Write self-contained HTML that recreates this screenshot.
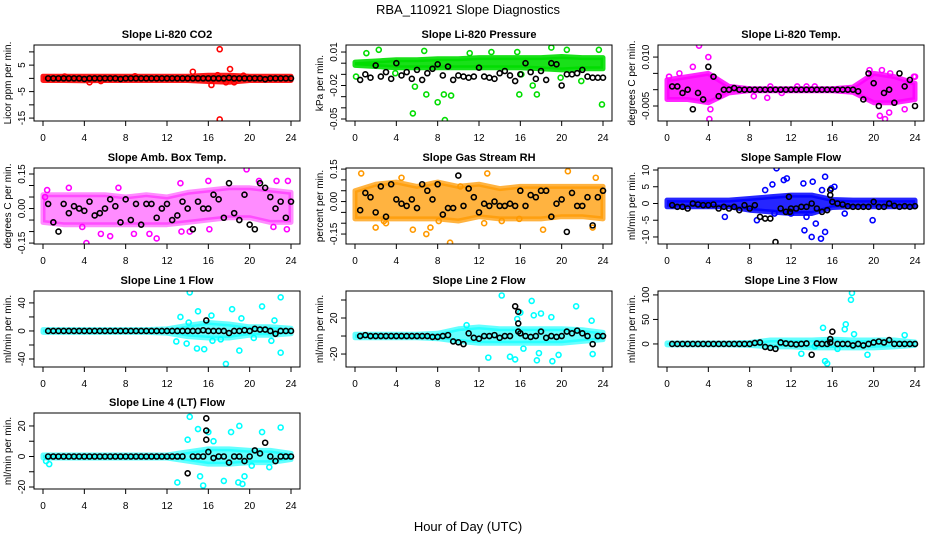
<!DOCTYPE html>
<html><head><meta charset="utf-8"><style>
html,body{margin:0;padding:0;background:#fff;}
svg{display:block;font-family:"Liberation Sans",sans-serif;}
</style></head><body>
<svg id="chart" width="936" height="540" viewBox="0 0 936 540">
<text x="468" y="14" text-anchor="middle" font-size="13">RBA_110921  Slope Diagnostics</text>
<text x="468" y="531" text-anchor="middle" font-size="13">Hour of Day (UTC)</text>
</svg>
<script>
const hours=[0.5,1,1.5,2,2.5,3,3.5,4,4.5,5,5.5,6,6.5,7,7.5,8,8.5,9,9.5,10,10.5,11,11.5,12,12.5,13,13.5,14,14.5,15,15.5,16,16.5,17,17.5,18,18.5,19,19.5,20,20.5,21,21.5,22,22.5,23,23.5,24];
const bandHours=[0,2,4,6,8,10,12,14,16,18,20,22,24];
const xTicks=[0,4,8,12,16,20,24];

// P1 CO2
const p1Hi=[0.8,0.8,0.8,0.8,0.8,0.8,0.8,0.8,1.2,1.2,0.8,0.8,0.8];
const p1Lo=[-0.8,-0.8,-0.9,-0.8,-0.8,-0.8,-0.8,-0.8,-1.2,-1.5,-0.8,-0.8,-0.8];
const p1X=[17.1,14.5,18.1,16.3,17.1,4.5,5.6,17.7,18.5,16.9,19.4,8.9,2.1];
const p1Y=[11,2.5,3.5,-2.5,-15.5,-1.5,-1,-1.5,-1.5,1.2,1,0.8,0.7];
const p1K=[0,0,0,0,0,0,0,-0.2,0,0,0,0, 0,0,-0.2,0,0,0,0,0,0,0,0,0, 0,0,0,0,0,0,0,0,0,0,0,0.2, 0,0,0,0,0,0,-0.3,0,0,0,0,0];
const p1EX=[],p1EY=[];
// P2 Pressure
const p2Hi=[0.001,0.002,0.003,0.003,0.004,0.004,0.005,0.005,0.005,0.005,0.006,0.005,0.005];
const p2Lo=[-0.002,-0.003,-0.004,-0.004,-0.004,-0.004,-0.004,-0.004,-0.004,-0.005,-0.006,-0.005,-0.005];
const p2X=[0.1,2.3,5.6,5.8,6.9,8,8.7,9.3,8.6,15.9,17.2,17.6,19,23.9,21.9,20.5,23.6,3.9,13.2,6.7,1.1,15.7,11.1,19.9,16.1];
const p2Y=[-0.012,0.012,-0.045,-0.021,-0.028,-0.035,-0.051,-0.029,-0.028,-0.028,-0.020,-0.028,0.014,-0.037,-0.016,0.012,0.012,-0.009,0.010,0.011,0.009,0.010,0.009,-0.013,-0.010];
const p2K=[-0.015,-0.010,-0.013,-0.002,-0.012,-0.008,-0.014,0.000,-0.011,-0.008,-0.014,-0.006,-0.015,-0.009,-0.005,-0.001,-0.011,-0.003,-0.015,-0.011,-0.012,-0.013,-0.012,-0.004,-0.012,-0.013,-0.014,-0.009,-0.007,-0.011,-0.016,-0.010,0.000,-0.008,-0.014,-0.007,-0.015,0.000,-0.001,-0.020,-0.010,-0.010,-0.009,-0.006,-0.012,-0.013,-0.013,-0.013];
const p2EX=[],p2EY=[];
// P3 Temp
const p3Hi=[0.003,0.004,0.005,0.001,0.0003,0.0003,0.0003,0.0003,0.0003,0.0008,0.005,0.004,0.002];
const p3Lo=[-0.003,-0.003,-0.004,-0.001,-0.0003,-0.0003,-0.0003,-0.0003,-0.0003,-0.0008,-0.004,-0.004,-0.003];
const p3X=[3.1,4.0,4.1,1.2,0.2,2.5,4.2,19.6,20.8,21.1,20.6,21.6,23,21.5,24,8.4,9.7,10,11.1,12.6,13.5,14.3,23.9];
const p3Y=[0.0135,0.010,-0.009,0.005,0.004,0.007,-0.006,0.006,0.006,-0.009,-0.008,0.005,-0.006,-0.007,0.004,-0.002,-0.0025,0.001,-0.001,0.001,0.001,0.001,0.004];
const p3K=[0.001,0.001,-0.001,0.000,-0.006,-0.001,-0.003,0.007,0.004,-0.002,0.000,0.000, 0.0005,0,0,0,0,0,0,0,0,0,0,0, 0,0,0,0,0,0,0,0,0,0,0,0, -0.0005,-0.003,0.005,0.002,-0.005,-0.001,0.000,-0.004,0.005,0.001,0.003,-0.005];
const p3EX=[],p3EY=[];
// P4 Amb Box
const p4Hi=[0.06,0.06,0.06,0.06,0.05,0.06,0.05,0.07,0.08,0.09,0.09,0.08,0.07];
const p4Lo=[-0.06,-0.07,-0.07,-0.07,-0.07,-0.07,-0.07,-0.06,-0.05,-0.04,-0.04,-0.06,-0.06];
const p4X=[4.2,5.6,6.5,8.8,10.3,11,13.4,14.2,16.1,19.7,16,20.9,22.6,23.7,2.5,0.4,7.3,13.3,3.8,1,0.2,22.3,23.6];
const p4Y=[-0.15,-0.11,-0.12,-0.11,-0.11,-0.13,-0.1,-0.10,-0.09,0.17,0.12,0.12,0.12,0.12,0.09,0.08,0.09,0.11,-0.08,-0.06,0.05,-0.08,-0.09];
const p4K=[0.02,-0.06,-0.1,0.02,-0.02,0.01,0,-0.01,0.03,-0.03,-0.02,0, 0.04,0.01,-0.06,0.04,-0.05,0.02,-0.07,0.02,0.02,-0.04,0.00,0.02, -0.05,-0.03,0.03,0,-0.09,0.03,0,0,0.06,0.04,-0.04,0.11, -0.02,-0.05,0.06,-0.07,-0.09,0.11,0.09,0.05,0.00,0.03,-0.04,0.03];
const p4EX=[],p4EY=[];
// P5 RH
const p5Hi=[0.05,0.08,0.09,0.07,0.09,0.07,0.08,0.06,0.07,0.07,0.07,0.07,0.07];
const p5Lo=[-0.08,-0.08,-0.08,-0.08,-0.08,-0.09,-0.07,-0.08,-0.08,-0.08,-0.07,-0.07,-0.08];
const p5X=[0.6,2,2.8,5.6,6.9,7.3,9.2,8.1,12.8,20.6,23.3,18.2,12.5,23,4.5,15.9,14.2,10.2,3];
const p5Y=[0.13,-0.12,-0.09,-0.13,-0.15,-0.12,-0.19,-0.09,0.13,0.14,0.11,-0.13,-0.1,-0.12,0.11,-0.08,-0.09,0.07,-0.1];
const p5K=[-0.04,0.04,0.02,-0.05,0.07,-0.07,0.08,0.01,-0.01,-0.02,0.01,-0.03, 0.08,0.05,0.01,0.08,-0.06,-0.03,-0.03,0.12,-0.02,0.06,0.02,-0.05, -0.01,-0.02,0,-0.02,-0.02,-0.01,-0.02,0.05,-0.02,0.03,0.02,0.05, 0.05,-0.07,-0.01,0.01,-0.14,0.04,-0.02,-0.02,0.02,-0.11,0.02,0.05];
const p5EX=[],p5EY=[];
// P6 Sample Flow
const p6Hi=[1,1,1,1,1.5,2,2.5,2.5,1.2,1,1,1,1];
const p6Lo=[-1,-1,-1,-1,-2,-2.5,-3,-3,-1.2,-1,-1,-1,-1];
const p6X=[10.6,11.3,11.6,10.2,9.5,13.2,14.1,15.3,15,16.2,13.3,14,14.9,15.3,14.4,13.5,15.9,19.9,8.7,5.6,12,17.2,10.4];
const p6Y=[10.5,7,7.5,5.7,4,6,6.5,8,4,5,-8,-10,-10.5,-8.5,-6,-4,4.5,-5,-5,-4,-3,-3,-3];
const p6K=[-0.5,-1,-1,-1.5,0,-0.3,-0.5,-0.5,-0.3,-1.5,-1,-1.5, -1,-2,-0.5,-1.5,-0.5,-4,-4.5,-4.5,-11.5,-1.5,-2.5,-1.5, -1.5,-1,-1,0,-1.5,-2.5,-2,0.5,0,-0.3,-0.8,-1, -1,-1,-1,0.5,-1,-1,0,-0.7,-1,-0.8,-1,-0.8];
const p6EX=[15.8,15.8,11.8,11.9],p6EY=[4,2.5,2,-2.5];
// P7 Line 1
const p7Hi=[2,2,2,2,2,2,3,8,12,10,6,6,4];
const p7Lo=[-2,-2,-2,-2,-2,-2,-3,-8,-10,-10,-6,-6,-4];
const p7X=[14.2,23,21.2,18.3,15,13.3,16.3,14.9,15.6,17.7,19,23,22.4,13.9,16.4,17.2,12.9,20.4,22.1,14.1,19.2];
const p7Y=[55,48,35,31,28,20,22,-25,-26,-47,-28,-31,15,-18,-14,-12,-15,-10,-14,12,18];
const p7K=[0,0,0,0,0,0,0,0,0,0,0,0, 0,0,0,0,0,0,0,0,0,0,0,0, 0,0,0,0,0,0,1,0,0,0,0,-3, 0,0,1,0,3,2,2,0,-4,0,0,0];
const p7EX=[15.8],p7EY=[15];
// P8 Line 2
const p8Hi=[2,2,2,2,3,8,10,8,8,8,8,7,4];
const p8Lo=[-2,-2,-2,-2,-3,-6,-8,-8,-8,-8,-8,-6,-4];
const p8X=[14.2,17.1,21.4,15.7,17.3,19,22.9,12.9,15,15.5,17.6,19.1,19.7,23,16.3,17.8,10.8,16,18];
const p8Y=[45,39,33,19,23,21,17,-24,-23,-26,-27,-28,-21,-20,-14,-19,12,26,25];
const p8K=[0,1,0,0,0,0,0,0,0,0,0,0, 0,0,-1,-1,0,1,-6,-7,-9,3,-2,-3, 0,0,1,-2,0,0,33,3,0,-1,0,5, -2,0,-1,0,5,3,6,3,0,-9,0,0];
const p8EX=[15.8,15.8,15.8],p8EY=[27,14,5];
// P9 Line 3
const p9Hi=[2,2,2,2,3,8,8,8,10,8,8,8,4];
const p9Lo=[-2,-2,-2,-2,-3,-6,-6,-8,-8,-8,-8,-6,-3];
const p9X=[17.9,17.8,17.3,17.2,15.1,15.3,15.5,13,19.4,18.1,23,16.5,14.3];
const p9Y=[104,90,40,30,33,-35,-40,-20,-22,20,18,-10,-5];
const p9K=[0,0,0,0,0,0,0,0,0,0,0,0, 0,0,0,0,2,3,-6,-8,-10,3,1,0, -1,0,1,-22,1,0,0,25,0,0,0,-3, 0,-3,0,3,5,3,8,0,0,0,0,0];
const p9EX=[15.8,15.8],p9EY=[10,3];
// P10 Line 4
const p10Hi=[1,1,1,1,1,1,1,3,5,5,4,4,2];
const p10Lo=[-1,-1,-1,-1,-1,-1,-1,-3,-5,-5,-4,-4,-2];
const p10X=[14.2,15,19,21.2,23,18.2,16,13,15.5,15.2,17.5,18.9,19.3,19.5,14,16.5,20.2,21.9,0.3,0.6];
const p10Y=[26,18,20,16,19,16,16,-17,-19,-13,-16,-17,-18,-13,11,10,-6,-7,-3,-5];
const p10K=[0,0,0,0,0,0,0,0,0,0,0,0, 0,0,0,0,0,0,0,0,0,0,0,0, 0,0,0,-11,0,0,0,3,-1,0,0,-4, 0,0,-3,0,4,2,9,0,-3,0,0,0];
const p10EX=[15.8,15.8,15.8],p10EY=[25,17,11];

const panels=[
 {t:"Slope Li-820 CO2",yl:"Licor ppm per min.",r:0,c:0,ymin:-16.1,ymax:12.6,ticks:[-15,-10,-5,0,5,10],labs:["-15","","-5","","5",""],col:"#ff0000",op:0.9,hi:p1Hi,lo:p1Lo,px:p1X,py:p1Y,k:p1K,ex:p1EX,ey:p1EY},
 {t:"Slope Li-820 Pressure",yl:"kPa per min.",r:0,c:1,ymin:-0.0518,ymax:0.0163,ticks:[0.01,0,-0.01,-0.02,-0.03,-0.04,-0.05],labs:["0.01","","","-0.02","","","-0.05"],col:"#00dd00",op:0.9,hi:p2Hi,lo:p2Lo,px:p2X,py:p2Y,k:p2K,ex:p2EX,ey:p2EY},
 {t:"Slope Li-820 Temp.",yl:"degrees C per min.",r:0,c:2,ymin:-0.0096,ymax:0.0137,ticks:[0.010,0.005,0,-0.005],labs:["0.010","","","-0.005"],col:"#ff00ff",op:0.85,hi:p3Hi,lo:p3Lo,px:p3X,py:p3Y,k:p3K,ex:p3EX,ey:p3EY},
 {t:"Slope Amb. Box Temp.",yl:"degrees C per min.",r:1,c:0,ymin:-0.154,ymax:0.176,ticks:[0.15,0.10,0.05,0,-0.05,-0.10,-0.15],labs:["0.15","","","0.00","","","-0.15"],col:"#ff00ff",op:0.45,hi:p4Hi,lo:p4Lo,px:p4X,py:p4Y,k:p4K,ex:p4EX,ey:p4EY},
 {t:"Slope Gas Stream RH",yl:"percent per min.",r:1,c:1,ymin:-0.196,ymax:0.155,ticks:[0.15,0.10,0.05,0,-0.05,-0.10,-0.15],labs:["0.15","","","0.00","","","-0.15"],col:"#ff9900",op:0.75,hi:p5Hi,lo:p5Lo,px:p5X,py:p5Y,k:p5K,ex:p5EX,ey:p5EY},
 {t:"Slope Sample Flow",yl:"ml/min per min.",r:1,c:2,ymin:-12.1,ymax:10.6,ticks:[10,5,0,-5,-10],labs:["10","5","0","-5","-10"],col:"#0000ff",op:0.85,hi:p6Hi,lo:p6Lo,px:p6X,py:p6Y,k:p6K,ex:p6EX,ey:p6EY},
 {t:"Slope Line 1 Flow",yl:"ml/min per min.",r:2,c:0,ymin:-51.4,ymax:57,ticks:[40,20,0,-20,-40],labs:["40","","0","","-40"],col:"#00ffff",op:0.6,hi:p7Hi,lo:p7Lo,px:p7X,py:p7Y,k:p7K,ex:p7EX,ey:p7EY},
 {t:"Slope Line 2 Flow",yl:"ml/min per min.",r:2,c:1,ymin:-34.4,ymax:50,ticks:[40,20,0,-20],labs:["","20","","-20"],col:"#00ffff",op:0.6,hi:p8Hi,lo:p8Lo,px:p8X,py:p8Y,k:p8K,ex:p8EX,ey:p8EY},
 {t:"Slope Line 3 Flow",yl:"ml/min per min.",r:2,c:2,ymin:-47,ymax:108,ticks:[100,50,0],labs:["100","50","0"],col:"#00ffff",op:0.6,hi:p9Hi,lo:p9Lo,px:p9X,py:p9Y,k:p9K,ex:p9EX,ey:p9EY},
 {t:"Slope Line 4 (LT) Flow",yl:"ml/min per min.",r:3,c:0,ymin:-21.3,ymax:28.5,ticks:[20,10,0,-10,-20],labs:["20","","0","","-20"],col:"#00ffff",op:0.6,hi:p10Hi,lo:p10Lo,px:p10X,py:p10Y,k:p10K,ex:p10EX,ey:p10EY}
];

const NS="http://www.w3.org/2000/svg";
const svg=document.getElementById("chart");
function mk(tag,attrs,parent){const e=document.createElementNS(NS,tag);for(const a in attrs)e.setAttribute(a,attrs[a]);(parent||svg).appendChild(e);return e;}
const boxTops=[45,168,291,413],boxH=76;

panels.forEach((p,i)=>{
  const col=p.c*312, L=col+34, R=col+300, T=boxTops[p.r], B=T+boxH;
  const xs=h=>col+43+h*(248/24);
  const ys=v=>T+(p.ymax-v)/(p.ymax-p.ymin)*boxH;
  const g=mk("g",{});
  
  
  const clip=mk("clipPath",{id:"cl"+i},g);mk("rect",{x:L,y:T,width:R-L,height:boxH},clip);
  const plot=mk("g",{"clip-path":"url(#cl"+i+")"},g);
  let d="";p.hi.forEach((v,j)=>{d+=(j?"L":"M")+xs(bandHours[j]).toFixed(1)+","+ys(v).toFixed(1);});
  for(let j=p.lo.length-1;j>=0;j--)d+="L"+xs(bandHours[j]).toFixed(1)+","+ys(p.lo[j]).toFixed(1);
  const band=mk("path",{d:d+"Z",fill:p.col,stroke:p.col,"stroke-width":5,"stroke-linejoin":"round","fill-opacity":p.op,"stroke-opacity":p.op},plot);
  
  
  p.px.forEach((x,j)=>{
    const c=mk("circle",{cx:xs(x),cy:ys(p.py[j]),r:2.5,fill:"none",stroke:p.col,"stroke-width":1.6},plot);
    
    
  });
  p.k.forEach((v,j)=>{
    const c=mk("circle",{cx:xs(hours[j]),cy:ys(v),r:2.5,fill:"none",stroke:"#000","stroke-width":1.6},plot);
    
    
  });
  p.ex.forEach((x,j)=>{
    const c=mk("circle",{cx:xs(x),cy:ys(p.ey[j]),r:2.5,fill:"none",stroke:"#000","stroke-width":1.6},plot);
    
    
  });
  const box=mk("rect",{x:L,y:T,width:R-L,height:boxH,fill:"none",stroke:"#000","stroke-width":1},g);
  
  
  xTicks.forEach(t=>{
    const x=xs(t);
    mk("line",{x1:x,y1:B,x2:x,y2:B+5,stroke:"#000"},g);
    const tx=mk("text",{x:x,y:B+20,"text-anchor":"middle","font-size":10},g);
    tx.textContent=t;
    
    
  });
  p.ticks.forEach((t,j)=>{
    const y=ys(t);
    mk("line",{x1:L-5,y1:y,x2:L,y2:y,stroke:"#000"},g);
    if(p.labs[j]){
      const tx=mk("text",{x:0,y:0,"text-anchor":"middle","font-size":10,transform:"translate("+(L-9)+","+y+") rotate(-90)"},g);
      tx.textContent=p.labs[j];
      
      
    }
  });
  const ti=mk("text",{x:(L+R)/2,y:T-7,"text-anchor":"middle","font-size":11,"font-weight":"bold"},g);
  ti.textContent=p.t;
  
  
  const yl=mk("text",{x:0,y:0,"text-anchor":"middle","font-size":10,transform:"translate("+(col+11)+","+(T+boxH/2)+") rotate(-90)"},g);
  yl.textContent=p.yl;
  
  
});
</script>
</body></html>
